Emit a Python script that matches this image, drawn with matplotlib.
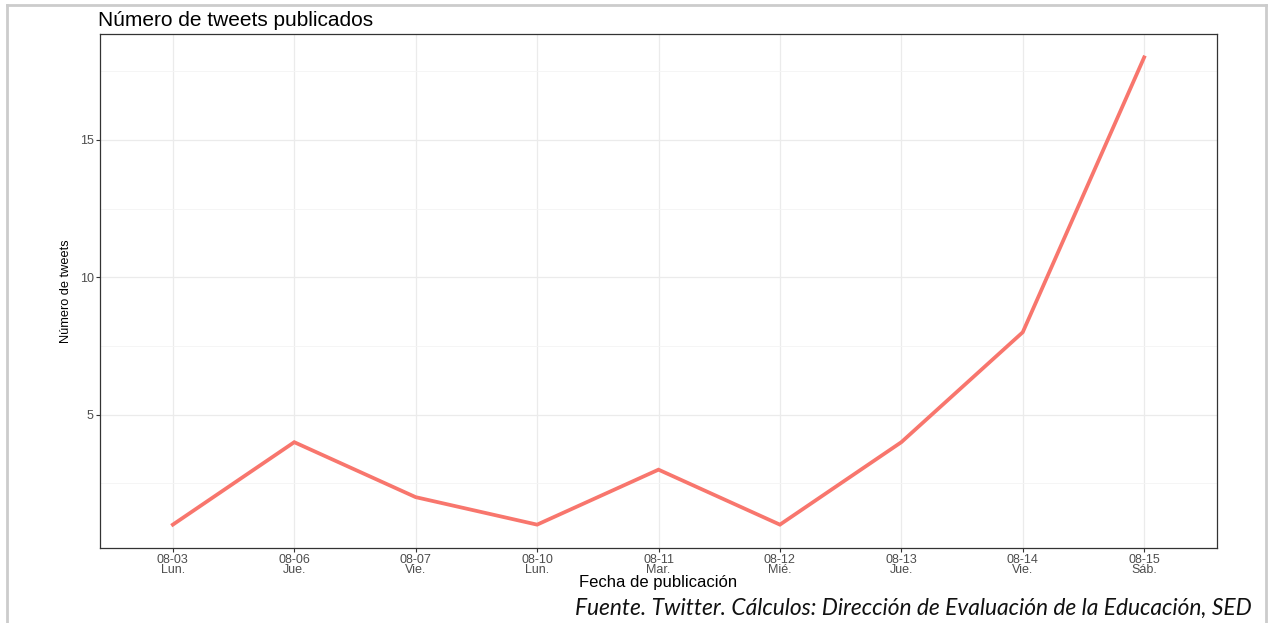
import matplotlib.pyplot as plt
from matplotlib.lines import Line2D

fechas = ['08-03', '08-06', '08-07', '08-10', '08-11', '08-12', '08-13', '08-14', '08-15']
dias = ['Lun.', 'Jue.', 'Vie.', 'Lun.', 'Mar.', 'Mié.', 'Jue.', 'Vie.', 'Sáb.']
tweets = [1, 4, 2, 1, 3, 1, 4, 8, 18]

etiquetas = [f'{f}\n{d}' for f, d in zip(fechas, dias)]
pos = list(range(len(fechas)))

plt.rcParams['font.family'] = ['Liberation Sans', 'DejaVu Sans']

fig = plt.figure(figsize=(12.68, 6.23), dpi=100)
W, H = 1268, 623
ax = fig.add_axes([100 / W, 1 - 548 / H, (1217 - 100) / W, (548 - 34) / H])

ax.plot(pos, tweets, color='#F8766D', linewidth=2.7, solid_joinstyle='miter', zorder=3)

ax.set_xlim(-0.6, len(fechas) - 1 + 0.6)
ax.set_ylim(0.15, 18.85)
ax.set_xticks(pos)
ax.set_xticklabels(etiquetas, fontsize=9, color='#4D4D4D', linespacing=0.8)
ax.set_yticks([5, 10, 15])
ax.set_yticklabels(['5', '10', '15'], fontsize=9, color='#4D4D4D')
ax.set_yticks([2.5, 7.5, 12.5, 17.5], minor=True)
ax.tick_params(axis='both', which='major', length=3, width=0.8, color='#333333', pad=1.5)
ax.tick_params(axis='y', which='minor', length=0)

ax.grid(True, which='major', color='#EBEBEB', linewidth=0.9)
ax.grid(True, which='minor', axis='y', color='#F4F4F4', linewidth=0.6)
ax.set_axisbelow(True)
for s in ax.spines.values():
    s.set_color('#333333')
    s.set_linewidth(0.9)

ax.set_xlabel('Fecha de publicación', fontsize=12)
ax.xaxis.label.set_va('center')
ax.xaxis.set_label_coords(0.5, -35 / 514)
ax.set_ylabel('Número de tweets', fontsize=9.2)
ax.yaxis.label.set_va('center')
ax.yaxis.set_label_coords(-34 / 1117, 0.5)
fig.text(98 / W, 1 - 20 / H, 'Número de tweets publicados', fontsize=15,
         ha='left', va='center')

fig.text(1252 / W, 1 - 608 / H,
         'Fuente. Twitter. Cálculos: Dirección de Evaluación de la Educación, SED',
         fontsize=16.4, style='italic', ha='right', va='center',
         family=['Lato', 'DejaVu Sans'], color='#111111')

# marco exterior gris
borde = '#CCCCCC'
fig.add_artist(Line2D([7 / W, 1266 / W], [1 - 5 / H, 1 - 5 / H], color=borde, linewidth=2, transform=fig.transFigure))
fig.add_artist(Line2D([7 / W, 7 / W], [1 - 5 / H, 0], color=borde, linewidth=2, transform=fig.transFigure))
fig.add_artist(Line2D([1266 / W, 1266 / W], [1 - 5 / H, 0], color=borde, linewidth=2, transform=fig.transFigure))

fig.savefig('out.png', dpi=100)
